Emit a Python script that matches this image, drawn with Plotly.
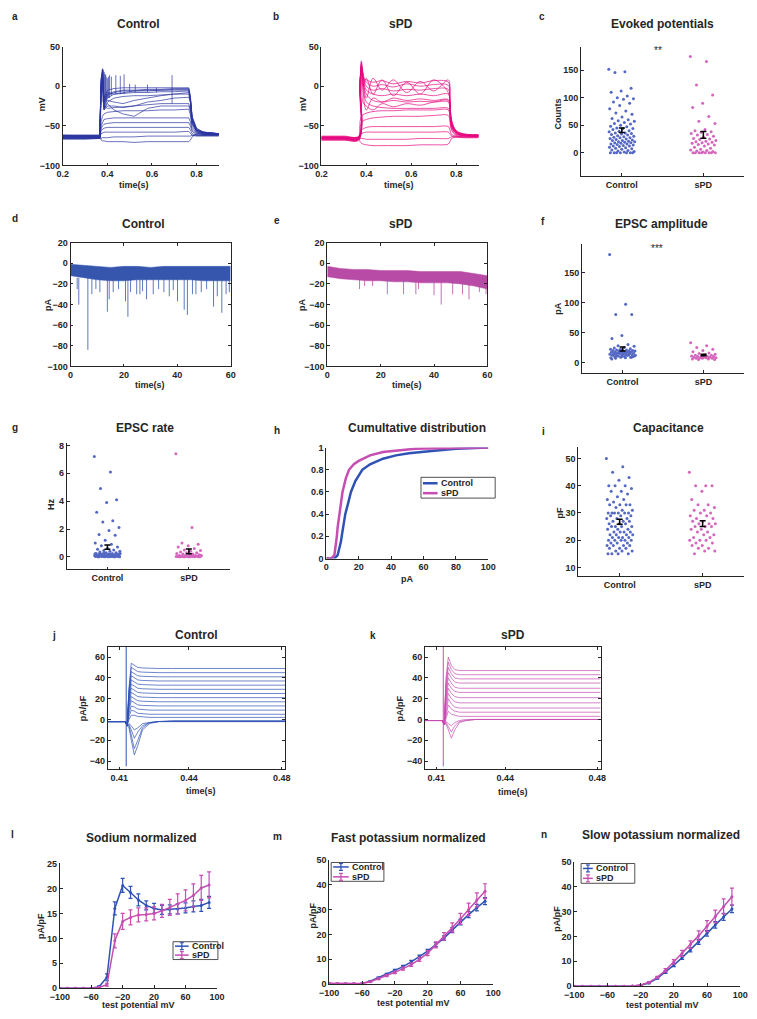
import numpy as np
import plotly.graph_objects as go

W, H = 757, 1019
FONT = "Liberation Sans"
AX = "#262626"

# ---------------- DATA ----------------
# a / b : current-clamp traces, key times (s) and voltages (mV)
T_AB = [0.20, 0.30, 0.366, 0.372, 0.378, 0.385, 0.40, 0.43, 0.47, 0.52, 0.58, 0.64, 0.70, 0.765, 0.772, 0.78, 0.80, 0.83, 0.90]
A_CTRL = [
    [-62, -63, -63, -68, -69, -69, -70, -70, -70, -71, -70, -70, -70, -70, -68, -64, -60, -60, -61],
    [-64, -64, -64, -66, -65, -65, -65, -64, -64, -64, -63, -63, -63, -63, -63, -62, -62, -62, -62],
    [-66, -65, -65, -60, -59, -58, -58, -58, -58, -58, -58, -58, -58, -57, -59, -62, -63, -63, -63],
    [-63, -64, -64, -56, -54, -53, -52, -52, -52, -52, -52, -52, -52, -52, -55, -60, -62, -62, -62],
    [-65, -65, -65, -54, -50, -48, -47, -46, -46, -46, -46, -46, -46, -46, -50, -57, -61, -62, -62],
    [-62, -62, -62, -50, -45, -42, -41, -40, -40, -40, -40, -40, -40, -40, -45, -55, -60, -61, -61],
    [-64, -64, -64, -45, -38, -35, -33, -32, -31, -31, -31, -30, -30, -29, -36, -52, -59, -61, -61],
    [-66, -66, -66, -20, 15, -25, -28, -27, -26, -25, -24, -22, -22, -22, -30, -48, -58, -60, -61],
    [-63, -63, -63, -10, 20, -30, -20, -15, -13, -12, -12, -11, -10, -10, -20, -45, -57, -60, -60],
    [-65, -65, -65, -5, 22, -28, -15, -10, -9, -8, -8, -7, -7, -6, -18, -44, -56, -59, -60],
    [-62, -62, -62, 0, 18, -25, -12, -8, -6, -6, -5, -5, -4, -4, -16, -42, -55, -59, -60],
    [-67, -67, -66, 5, 15, -20, -10, -7, -5, -5, -4, -4, -3, -3, -15, -40, -55, -58, -60],
    [-64, -64, -64, 8, 20, -18, -8, -10, -8, -6, -6, -5, -5, -5, -15, -40, -54, -58, -60],
    [-63, -63, -63, 10, 17, -22, -18, -20, -22, -18, -15, -12, -10, -8, -17, -42, -55, -58, -60],
    [-66, -66, -66, 2, 12, -30, -25, -25, -27, -25, -20, -18, -15, -14, -20, -45, -56, -59, -60],
    [-64, -64, -64, -2, 10, -28, -22, -30, -35, -38, -28, -25, -25, -25, -30, -48, -57, -60, -61],
    [-62, -62, -62, 6, 14, -15, -5, -3, -2, -2, -2, -2, -2, -2, -12, -38, -53, -58, -60],
]
A_SPIKE_T = [0.380, 0.383, 0.386, 0.389, 0.392, 0.395, 0.400, 0.405, 0.410, 0.418, 0.438, 0.458, 0.475, 0.500, 0.525, 0.580, 0.620, 0.690]
A_SPIKE_V = [22, 20, 18, 15, 15, 12, 10, 12, 14, 12, 14, 13, 15, 3, 2, 2, -2, 14]
A_SPIKE_BASE = [-20, -20, -20, -20, -18, -18, -15, -15, -15, -12, -10, -10, -10, -8, -8, -8, -8, -22]

B_SPD = [
    [-66, -66, -66, -70, -72, -73, -74, -75, -75, -75, -75, -74, -74, -73, -70, -66, -64, -64, -64],
    [-65, -65, -65, -66, -66, -66, -67, -67, -67, -67, -67, -66, -66, -66, -65, -64, -64, -64, -64],
    [-68, -68, -68, -62, -60, -59, -58, -58, -58, -58, -58, -58, -58, -58, -60, -63, -64, -65, -65],
    [-64, -64, -64, -58, -55, -54, -52, -51, -51, -51, -51, -51, -51, -51, -55, -61, -63, -64, -64],
    [-66, -66, -66, -52, -46, -44, -42, -40, -39, -38, -38, -38, -37, -37, -44, -56, -62, -63, -63],
    [-67, -67, -67, -45, -38, -36, -34, -32, -31, -31, -30, -30, -30, -30, -38, -54, -61, -62, -63],
    [-65, -65, -65, -10, 30, 5, -20, -25, -27, -28, -28, -28, -28, -28, -35, -52, -60, -62, -63],
    [-66, -66, -66, -5, 32, 10, -10, -18, -20, -18, -20, -19, -20, -20, -30, -50, -59, -62, -62],
    [-64, -64, -64, 0, 28, 15, -5, -10, -12, -10, -12, -10, -12, -10, -25, -48, -58, -61, -62],
    [-67, -67, -67, 2, 25, 18, 0, -5, -3, -6, -4, -5, -3, -4, -20, -46, -57, -61, -62],
    [-65, -65, -65, 5, 22, 12, 5, 0, 2, -1, 3, 0, 2, 1, -18, -45, -57, -61, -62],
    [-66, -66, -66, 8, 20, 10, 8, 5, 7, 3, 6, 4, 7, 5, -15, -44, -56, -60, -62],
    [-63, -63, -63, 3, 26, 8, -15, 10, -5, 8, -8, 6, -6, 8, -14, -43, -56, -60, -61],
    [-68, -68, -68, -2, 24, 0, 10, -10, 8, -12, 5, -10, 8, -8, -22, -47, -58, -61, -62],
    [-64, -64, -64, 6, 18, -5, -30, -15, -20, -15, -18, -16, -18, -17, -27, -50, -59, -62, -63],
    [-66, -66, -66, 4, 15, -20, -25, -30, -22, -26, -22, -24, -20, -18, -28, -50, -59, -62, -63],
]

# d / e : spontaneous EPSC recordings (noise band envelope + events)
T_DE = [0, 5, 10, 15, 20, 25, 30, 35, 40, 45, 50, 55, 60]
D_UPPER = [-1, -2, -3, -4, -3, -3, -4, -3, -3, -3, -3, -3, -3]
D_LOWER = [-12, -14, -16, -17, -17, -16, -16, -16, -16, -16, -17, -17, -17]
D_EV_T = [2.5, 3.1, 6.5, 8.0, 9.5, 11.0, 13.8, 14.5, 16.0, 18.0, 20.6, 21.5, 22.5, 24.8, 26.0, 27.0, 28.5, 31.0,
          33.0, 35.0, 37.0, 38.5, 40.1, 42.6, 43.8, 45.7, 47.0, 49.0, 51.0, 53.6, 55.0, 56.7, 58.3, 59.5]
D_EV_A = [-25, -40, -84, -30, -25, -28, -47, -35, -28, -25, -37, -52, -28, -30, -30, -27, -35, -30,
          -25, -28, -32, -26, -37, -45, -50, -30, -30, -28, -25, -42, -32, -48, -30, -28]
E_UPPER = [-3, -5, -6, -6, -7, -7, -7, -8, -8, -8, -8, -10, -12]
E_LOWER = [-13, -15, -16, -17, -17, -18, -18, -19, -19, -19, -20, -22, -25]
E_EV_T = [12.1, 14.0, 17.0, 22.5, 28.6, 33.2, 34.2, 40.0, 42.7, 47.0, 50.7, 53.1, 57.0, 59.5]
E_EV_A = [-25, -22, -22, -30, -30, -30, -25, -31, -40, -30, -30, -35, -28, -30]

# c : evoked potentials (counts)
C_CTRL = [152, 147, 146, 117, 112, 110, 103, 100, 98, 97, 92, 90, 86, 80, 76, 72, 70, 65, 62, 60, 58, 57, 55,
          53, 52, 50, 48, 47, 45, 44, 44, 42, 40, 39, 38, 36, 36, 35, 34, 33, 32, 31, 30, 29, 28, 27, 27, 26,
          25, 24, 23, 22, 22, 21, 20, 20, 19, 18, 18, 17, 16, 16, 15, 14, 13, 12, 12, 11, 10, 9, 8, 7, 6, 5,
          4, 3, 2, 1, 0, 0, 0, 0, 0, 0, 0]
C_SPD = [175, 166, 123, 105, 90, 82, 66, 57, 53, 42, 40, 38, 37, 35, 33, 32, 30, 28, 26, 25, 24, 22, 21, 20,
         19, 18, 17, 16, 15, 14, 12, 10, 8, 6, 5, 4, 3, 2, 1, 0, 0, 0, 0, 0, 0, 0, 0]

# f : EPSC amplitude (pA)
F_CTRL = [180, 97, 80, 80, 45, 40, 30, 28, 27, 25, 24, 23, 22, 22, 21, 21, 20, 20, 20, 19, 19, 19, 18, 18, 18,
          17, 17, 17, 16, 16, 16, 15, 15, 15, 14, 14, 14, 13, 13, 12, 12, 11, 11, 10, 10, 9, 9, 8, 12, 11, 10,
          14, 13, 15, 16, 12, 8, 7, 9, 10, 6]
F_SPD = [33, 28, 25, 22, 20, 18, 16, 15, 14, 13, 12, 12, 11, 11, 10, 10, 10, 9, 9, 9, 8, 8, 8, 7, 7, 7, 6, 6, 5, 5]

# g : EPSC rate (Hz)
G_CTRL = [7.2, 6.1, 4.9, 4.1, 3.9, 3.2, 2.6, 2.5, 2.1, 1.9, 1.6, 1.55, 1.2, 1.0, 0.9, 0.8, 0.7, 0.6, 0.55, 0.5,
          0.45, 0.4, 0.4, 0.35, 0.3, 0.3, 0.25, 0.25, 0.2, 0.2, 0.2, 0.15, 0.15, 0.15, 0.1, 0.1, 0.1, 0.1, 0.08,
          0.08, 0.06, 0.06, 0.05, 0.05, 0.04, 0.04, 0.03, 0.03, 0.02, 0.02, 0.02, 0.01, 0.01, 0.01,
          0.3, 0.25, 0.2, 0.18, 0.15, 0.12, 0.1, 0.08, 0.05, 0.03, 0.02, 0.0, 0.0, 0.0, 0.22, 0.17, 0.13, 0.11,
          0.09, 0.07, 0.04, 0.02, 0.01, 0.0, 0.28, 0.19]
G_SPD = [7.4, 2.1, 1.0, 0.9, 0.8, 0.7, 0.6, 0.5, 0.45, 0.4, 0.35, 0.3, 0.3, 0.25, 0.2, 0.2, 0.15, 0.15, 0.1,
         0.1, 0.1, 0.08, 0.06, 0.05, 0.04, 0.03, 0.02, 0.02, 0.01, 0.01, 0.0, 0.0, 0.05, 0.04, 0.03, 0.02,
         0.02, 0.01, 0.01, 0.0, 0.0, 0.0, 0.12, 0.08, 0.06]

# h : cumulative distribution of EPSC amplitude
H_X_CTRL = [0, 5, 7, 8, 9, 9.5, 10.5, 11.7, 13.5, 15.2, 18, 22.2, 27, 35, 43, 51, 65, 80, 100]
H_Y_CTRL = [0, 0, 0.03, 0.08, 0.15, 0.2, 0.3, 0.4, 0.5, 0.6, 0.7, 0.8, 0.85, 0.9, 0.93, 0.95, 0.97, 0.99, 1.0]
H_X_SPD = [0, 3, 5, 6, 6.5, 7, 8, 9, 10, 12, 14, 17, 20, 27, 35, 41, 55, 70, 100]
H_Y_SPD = [0, 0, 0.03, 0.12, 0.2, 0.28, 0.4, 0.5, 0.6, 0.72, 0.8, 0.85, 0.88, 0.93, 0.96, 0.97, 0.99, 0.995, 1.0]

# i : capacitance (pF)
I_CTRL = [50, 47, 45, 43, 42, 40, 40, 40, 39, 38, 38, 37, 36, 35, 35, 34, 33, 33, 33, 33, 32, 31, 31, 30, 30, 30,
          30, 30, 30, 29, 29, 29, 28, 28, 28, 27, 27, 27, 26, 26, 26, 25, 25, 25, 25, 24, 24, 24, 23, 23, 23, 23,
          22, 22, 22, 22, 21, 21, 21, 21, 20, 20, 20, 20, 20, 19, 19, 19, 18, 18, 18, 18, 17, 17, 17, 16, 16, 16,
          15, 15, 15, 15]
I_SPD = [45, 40, 40, 40, 38, 35, 33, 33, 32, 31, 31, 30, 30, 29, 29, 28, 28, 27, 27, 26, 26, 26, 25, 25, 25, 24,
         24, 23, 23, 22, 22, 21, 21, 20, 20, 20, 19, 19, 18, 18, 17, 17, 16, 16, 15]

# j / k : voltage-clamp current density traces (pA/pF)
T_JK = [0.405, 0.4127, 0.4134, 0.4142, 0.4152, 0.4165, 0.418, 0.420, 0.423, 0.427, 0.433, 0.445, 0.46, 0.4815]
J_CTRL = [
    [-2, -2, -6, 30, 54, 52, 50, 49.5, 49, 49, 49, 49, 49, 49],
    [-2, -2, -6, 28, 50, 48, 46, 45.5, 45, 45, 45, 45, 45, 45],
    [-2, -2, -6, 26, 46, 44, 42, 41.5, 41, 41, 41, 41, 41, 41],
    [-2, -2, -6, 24, 42, 40, 38, 37.5, 37, 37, 37, 37, 37, 37],
    [-2, -2, -6, 22, 38, 36, 34, 33.5, 33, 33, 33, 33, 33, 33],
    [-2, -2, -6, 20, 34, 32, 30, 29.5, 29, 29, 29, 29, 29, 29],
    [-2, -2, -6, 18, 30, 28, 26, 25.5, 25, 25, 25, 25, 25, 25],
    [-2, -2, -6, 15, 26, 24, 22, 21.5, 21, 21, 21, 21, 21, 21],
    [-2, -2, -6, 12, 22, 20, 18, 17.5, 17, 17, 17, 17, 17, 17],
    [-2, -2, -6, 9, 18, 16, 14, 13.5, 13, 13, 13, 13, 13, 13],
    [-2, -2, -6, 6, 13, 12, 10, 9.5, 9, 9, 9, 9, 9, 9],
    [-2, -2, -6, 3, 9, 8, 6, 5.5, 5, 5, 5, 5, 5, 5],
    [-2, -2, -6, 0, 4, 4, 3, 2.5, 2, 2, 2, 2, 2, 2],
    [-2, -2, -6, -8, -20, -34, -25, -10, -4, -2, -1, -1, -1, -1],
    [-2, -2, -6, -6, -15, -28, -20, -8, -3, -2, -2, -2, -2, -2],
    [-2, -2, -6, -5, -10, -18, -12, -6, -3, -2, -2, -2, -2, -2],
    [-2, -2, -6, -4, -6, -10, -8, -4, -3, -2, -2, -2, -2, -2],
]
K_SPD = [
    [-1, -1, -5, 40, 60, 52, 48, 47, 47, 47, 47, 47, 47, 47],
    [-1, -1, -5, 36, 55, 48, 44, 43, 43, 43, 43, 43, 43, 43],
    [-1, -1, -5, 32, 50, 44, 40, 39, 39, 39, 39, 39, 39, 39],
    [-1, -1, -5, 28, 45, 40, 36, 35, 35, 35, 35, 35, 35, 35],
    [-1, -1, -5, 24, 40, 35, 31, 30, 30, 30, 30, 30, 30, 30],
    [-1, -1, -5, 20, 35, 30, 27, 26, 26, 26, 26, 26, 26, 26],
    [-1, -1, -5, 16, 30, 25, 22, 21, 21, 21, 21, 21, 21, 21],
    [-1, -1, -5, 12, 25, 20, 17, 16, 16, 16, 16, 16, 16, 16],
    [-1, -1, -5, 8, 20, 15, 12, 11, 11, 11, 11, 11, 11, 11],
    [-1, -1, -5, 5, 14, 10, 8, 7, 7, 7, 7, 7, 7, 7],
    [-1, -1, -5, 2, 8, 5, 4, 3, 3, 3, 3, 3, 3, 3],
    [-1, -1, -5, -4, -10, -18, -10, -3, -1, 0, 0, 0, 0, 0],
    [-1, -1, -5, -3, -7, -12, -6, -2, -1, 0, 0, 0, 0, 0],
    [-1, -1, -5, -2, -4, -6, -3, -1, 0, 0, 0, 0, 0, 0],
]
JK_CAP_T = [0.4130, 0.4130]
JK_CAP_V = [-45, 70]

# l / m / n : I-V curves
V_TEST = [-100, -90, -80, -70, -60, -50, -40, -30, -20, -10, 0, 10, 20, 30, 40, 50, 60, 70, 80, 90]
L_CTRL = [0, 0, 0, 0, 0, 0.3, 2.2, 16.0, 20.6, 19.2, 17.7, 16.6, 16.0, 15.7, 15.8, 15.9, 16.1, 16.4, 16.6, 17.2]
L_CTRL_E = [0, 0, 0, 0, 0, 0.2, 0.7, 1.3, 1.4, 1.2, 1.2, 0.9, 1.0, 0.9, 0.9, 1.0, 1.0, 1.1, 1.2, 1.2]
L_SPD = [0, 0, 0, 0, 0, 0.2, 0.7, 9.5, 13.4, 14.2, 14.7, 14.8, 15.0, 15.5, 16.2, 16.9, 17.6, 18.6, 20.1, 20.7]
L_SPD_E = [0, 0, 0, 0, 0, 0.1, 0.3, 1.4, 1.6, 1.5, 1.4, 1.3, 1.3, 1.3, 1.6, 2.0, 2.1, 2.3, 2.5, 2.6]
M_CTRL = [0.2, 0.2, 0.2, 0.2, 0.3, 1.2, 2.6, 4.0, 5.6, 7.1, 9.0, 11.1, 13.3, 15.9, 18.5, 21.7, 24.9, 27.9, 30.7, 33.3]
M_CTRL_E = [0.1, 0.1, 0.1, 0.1, 0.1, 0.2, 0.3, 0.4, 0.4, 0.5, 0.6, 0.6, 0.7, 0.8, 0.9, 1.0, 1.1, 1.2, 1.3, 1.4]
M_SPD = [0.4, 0.3, 0.3, 0.3, 0.3, 1.0, 2.2, 3.5, 4.8, 6.3, 7.9, 10.0, 12.5, 15.8, 19.2, 22.8, 26.2, 30.0, 33.8, 37.3]
M_SPD_E = [0.2, 0.1, 0.1, 0.1, 0.1, 0.2, 0.3, 0.4, 0.5, 0.6, 0.7, 0.8, 1.0, 1.2, 1.5, 1.8, 2.2, 2.5, 2.8, 3.0]
N_CTRL = [0, 0, 0, 0, 0, 0, 0, 0.1, 0.4, 1.3, 3.2, 5.7, 8.5, 11.5, 14.6, 17.8, 21.2, 24.6, 27.8, 31.0]
N_CTRL_E = [0, 0, 0, 0, 0, 0, 0, 0.05, 0.1, 0.2, 0.3, 0.5, 0.6, 0.7, 0.8, 1.0, 1.1, 1.3, 1.4, 1.5]
N_SPD = [0, 0, 0, 0, 0, 0, 0, 0.1, 0.5, 1.6, 3.6, 6.4, 9.8, 13.2, 16.7, 20.3, 24.1, 28.0, 32.0, 35.9]
N_SPD_E = [0, 0, 0, 0, 0, 0, 0, 0.05, 0.1, 0.3, 0.4, 0.7, 0.9, 1.2, 1.5, 1.9, 2.2, 2.5, 3.0, 3.4]

GROUPS = ["Control", "sPD"]

# ---------------- STYLE ----------------
C_A = "#2B35A0"
C_B = "#E6087F"
C_D = "#3656AE"
C_E = "#B84BA6"
C_DOT_C = "#5468C4"
C_DOT_S = "#D566BE"
C_BLUE = "#2F52B5"
C_MAG = "#C64DB2"

fig = go.Figure()
annots = []
shapes = []
_axn = [0]


def tickfont():
    return dict(family=FONT, size=9, color=AX, weight="bold")


def new_axes(L, R, T, B, xr, yr, xtv=None, ytv=None, xtt=None, ytt=None, box=False):
    _axn[0] += 1
    i = _axn[0]
    s = "" if i == 1 else str(i)
    common = dict(showline=True, linecolor=AX, linewidth=0.8, mirror=("ticks" if box else False),
                  ticks="inside", ticklen=3, tickcolor=AX, tickwidth=0.8, tickfont=tickfont(),
                  showgrid=False, zeroline=False, fixedrange=True)
    xa = dict(domain=[L / W, R / W], range=xr, anchor="y" + s, tickvals=xtv, ticktext=xtt, **common)
    ya = dict(domain=[1 - B / H, 1 - T / H], range=yr, anchor="x" + s, tickvals=ytv, ticktext=ytt, **common)
    fig.update_layout(**{"xaxis" + s: xa, "yaxis" + s: ya})
    return "x" + s, "y" + s


def text(t, x, y, size=9, rot=0, bold=True, color=AX, xanchor="center"):
    annots.append(dict(text=t, x=x / W, y=1 - y / H, xref="paper", yref="paper", showarrow=False,
                       textangle=rot, xanchor=xanchor, yanchor="middle",
                       font=dict(family=FONT, size=size, color=color, weight=("bold" if bold else "normal"))))


def pline(x0, y0, x1, y1, color, width):
    shapes.append(dict(type="line", xref="paper", yref="paper", x0=x0 / W, x1=x1 / W,
                       y0=1 - y0 / H, y1=1 - y1 / H, line=dict(color=color, width=width)))


def legend_box(L, T, R, B, rows, errbar=False, lw=2.5):
    shapes.append(dict(type="rect", xref="paper", yref="paper", x0=L / W, x1=R / W, y0=1 - B / H, y1=1 - T / H,
                       line=dict(color=AX, width=0.8), fillcolor="white", layer="above"))
    for (name, color, y, x0, x1) in rows:
        pline(x0, y, x1, y, color, lw)
        if errbar:
            xm = (x0 + x1) / 2
            pline(xm, y - 3.5, xm, y + 3.5, color, 1.2)
            pline(xm - 2, y - 3.5, xm + 2, y - 3.5, color, 1.2)
            pline(xm - 2, y + 3.5, xm + 2, y + 3.5, color, 1.2)
        text(name, x1 + 1, y, 9, xanchor="left")


def lines_trace(xa, ya, xs, ys, color, width=0.7, shape="linear"):
    fig.add_trace(go.Scatter(x=xs, y=ys, mode="lines", line=dict(color=color, width=width, shape=shape),
                             xaxis=xa, yaxis=ya, showlegend=False, hoverinfo="skip"))


def multi(xa, ya, tvals, rows, color, width=0.7, shape="linear"):
    for r in rows:
        lines_trace(xa, ya, tvals, r, color, width, shape)


def vlines(xa, ya, ts, tops, bases, color, width=0.7):
    xs, ys = [], []
    for t, a, b in zip(ts, tops, bases):
        xs += [t, t, None]
        ys += [b, a, None]
    lines_trace(xa, ya, xs, ys, color, width)


def jitter_scatter(xa, ya, vals_list, colors, spread=0.16):
    for k, (vals, col) in enumerate(zip(vals_list, colors)):
        n = len(vals)
        offs = ((np.arange(n) * 0.6180339887) % 1.0 - 0.5) * 2 * spread
        fig.add_trace(go.Scatter(x=(k + 1) + offs, y=vals, mode="markers",
                                 marker=dict(color=col, size=3, line=dict(width=0)),
                                 xaxis=xa, yaxis=ya, showlegend=False, hoverinfo="skip"))
    means = [float(np.mean(v)) for v in vals_list]
    sems = [float(np.std(v, ddof=1) / np.sqrt(len(v))) for v in vals_list]
    fig.add_trace(go.Scatter(x=[1, 2], y=means, mode="markers",
                             marker=dict(color="black", size=1),
                             error_y=dict(type="data", array=sems, color="black", thickness=1.5, width=3),
                             xaxis=xa, yaxis=ya, showlegend=False, hoverinfo="skip"))


# ---------------- PANELS ----------------
# a
xa, ya = new_axes(54, 214, 42, 162, [0.2, 0.9], [-100, 50], xtv=[0.2, 0.4, 0.6, 0.8], ytv=[-100, -50, 0, 50])
multi(xa, ya, T_AB, A_CTRL, C_A)
vlines(xa, ya, A_SPIKE_T, A_SPIKE_V, A_SPIKE_BASE, C_A)
text("a", 5, 12, 10)
text("Control", 132, 19, 12)
text("mV", 33, 100, 9, rot=-90)
text("time(s)", 127, 182)

# b
xa, ya = new_axes(319, 480, 42, 162, [0.2, 0.9], [-100, 50], xtv=[0.2, 0.4, 0.6, 0.8], ytv=[-100, -50, 0, 50])
multi(xa, ya, T_AB, B_SPD, C_B, 0.7, "spline")
text("b", 272, 12, 10)
text("sPD", 401, 19, 12)
text("mV", 300, 100, 9, rot=-90)
text("time(s)", 398, 182)

# c
xa, ya = new_axes(585, 752, 42, 173, [0.5, 2.5], [-43, 193], xtv=[1, 2], xtt=GROUPS, ytv=[0, 50, 100, 150])
jitter_scatter(xa, ya, [C_CTRL, C_SPD], [C_DOT_C, C_DOT_S])
text("c", 545, 12, 10)
text("Evoked potentials", 668, 19, 12)
text("Counts", 561, 110, 9, rot=-90)
text("**", 664, 46, 10, bold=False)

# d
xa, ya = new_axes(62, 226, 240, 365, [0, 60], [-100, 20], xtv=[0, 20, 40, 60],
                  ytv=[-100, -80, -60, -40, -20, 0, 20], box=True)
fig.add_trace(go.Scatter(x=T_DE, y=D_UPPER, mode="lines", line=dict(color=C_D, width=0.5),
                         xaxis=xa, yaxis=ya, showlegend=False, hoverinfo="skip"))
fig.add_trace(go.Scatter(x=T_DE, y=D_LOWER, mode="lines", line=dict(color=C_D, width=0.5), fill="tonexty",
                         fillcolor=C_D, xaxis=xa, yaxis=ya, showlegend=False, hoverinfo="skip"))
vlines(xa, ya, D_EV_T, D_EV_A, [-14] * len(D_EV_T), C_D, 0.8)
text("d", 5, 216, 10)
text("Control", 137, 221, 12)
text("pA", 39, 303, 9, rot=-90)
text("time(s)", 143, 384)

# e
xa, ya = new_axes(325, 489, 240, 365, [0, 60], [-100, 20], xtv=[0, 20, 40, 60],
                  ytv=[-100, -80, -60, -40, -20, 0, 20], box=True)
fig.add_trace(go.Scatter(x=T_DE, y=E_UPPER, mode="lines", line=dict(color=C_E, width=0.5),
                         xaxis=xa, yaxis=ya, showlegend=False, hoverinfo="skip"))
fig.add_trace(go.Scatter(x=T_DE, y=E_LOWER, mode="lines", line=dict(color=C_E, width=0.5), fill="tonexty",
                         fillcolor=C_E, xaxis=xa, yaxis=ya, showlegend=False, hoverinfo="skip"))
vlines(xa, ya, E_EV_T, E_EV_A, [-16] * len(E_EV_T), C_E, 0.8)
text("e", 274, 218, 10)
text("sPD", 401, 221, 12)
text("pA", 299, 303, 9, rot=-90)
text("time(s)", 407, 384)

# f
xa, ya = new_axes(586, 752, 241, 372, [0.5, 2.5], [-18, 198], xtv=[1, 2], xtt=GROUPS, ytv=[0, 50, 100, 150])
jitter_scatter(xa, ya, [F_CTRL, F_SPD], [C_DOT_C, C_DOT_S])
text("f", 546, 219, 10)
text("EPSC amplitude", 667, 221, 12)
text("pA", 561, 307, 9, rot=-90)
text("***", 663, 246, 10, bold=False)

# g
xa, ya = new_axes(58, 225, 442, 570, [0.5, 2.5], [-0.9, 8.2], xtv=[1, 2], xtt=GROUPS, ytv=[0, 2, 4, 6, 8])
jitter_scatter(xa, ya, [G_CTRL, G_SPD], [C_DOT_C, C_DOT_S])
text("g", 5, 427, 10)
text("EPSC rate", 138, 427, 12)
text("Hz", 42, 504, 9, rot=-90)

# h
xa, ya = new_axes(324, 490, 447, 559, [0, 100], [0, 1.0], xtv=[0, 20, 40, 60, 80, 100],
                  ytv=[0, 0.2, 0.4, 0.6, 0.8, 1], ytt=["0", "0.2", "0.4", "0.6", "0.8", "1"])
fig.add_trace(go.Scatter(x=H_X_CTRL, y=H_Y_CTRL, mode="lines", line=dict(color=C_BLUE, width=2.5),
                         xaxis=xa, yaxis=ya, showlegend=False, hoverinfo="skip"))
fig.add_trace(go.Scatter(x=H_X_SPD, y=H_Y_SPD, mode="lines", line=dict(color=C_MAG, width=2.5),
                         xaxis=xa, yaxis=ya, showlegend=False, hoverinfo="skip"))
legend_box(421, 477, 497, 498, [("Control", C_BLUE, 483, 423, 438), ("sPD", C_MAG, 493, 423, 438)])
text("h", 274, 430, 10)
text("Cumultative distribution", 417, 427, 12)
text("pA", 407, 580)

# i
xa, ya = new_axes(582, 752, 446, 577, [0.5, 2.5], [6.7, 54.4], xtv=[1, 2], xtt=GROUPS, ytv=[10, 20, 30, 40, 50])
jitter_scatter(xa, ya, [I_CTRL, I_SPD], [C_DOT_C, C_DOT_S])
text("i", 547, 431, 10)
text("Capacitance", 675, 427, 12)
text("pF", 563, 513, 9, rot=-90)

# j
xa, ya = new_axes(100, 282, 648, 772, [0.405, 0.4815], [-48, 70], xtv=[0.41, 0.44, 0.48],
                  ytv=[-40, -20, 0, 20, 40, 60], box=True)
multi(xa, ya, T_JK, J_CTRL, C_BLUE, 0.7)
vlines(xa, ya, [JK_CAP_T[0]], [JK_CAP_V[1]], [JK_CAP_V[0]], C_BLUE, 1.0)
text("j", 45, 637, 10)
text("Control", 191, 636, 12)
text("pA/pF", 75, 710, 9, rot=-90)
text("time(s)", 196, 794)

# k
xa, ya = new_axes(425, 605, 648, 772, [0.405, 0.4815], [-48, 70], xtv=[0.41, 0.44, 0.48],
                  ytv=[-40, -20, 0, 20, 40, 60], box=True)
multi(xa, ya, T_JK, K_SPD, C_MAG, 0.7)
vlines(xa, ya, [JK_CAP_T[0]], [JK_CAP_V[1]], [JK_CAP_V[0]], C_MAG, 1.0)
text("k", 372, 637, 10)
text("sPD", 515, 636, 12)
text("pA/pF", 400, 710, 9, rot=-90)
text("time(s)", 515, 795)


def iv_panel(L, R, T, B, yr, ytv, ctrl, ctrl_e, spd, spd_e):
    xa, ya = new_axes(L, R, T, B, [-100, 100], yr, xtv=[-100, -60, -20, 20, 60, 100], ytv=ytv)
    for vals, errs, col in [(ctrl, ctrl_e, C_BLUE), (spd, spd_e, C_MAG)]:
        fig.add_trace(go.Scatter(x=V_TEST, y=vals, mode="lines+markers",
                                 line=dict(color=col, width=1.5), marker=dict(color=col, size=3),
                                 error_y=dict(type="data", array=errs, color=col, thickness=1.2, width=2),
                                 xaxis=xa, yaxis=ya, showlegend=False, hoverinfo="skip"))


# l
iv_panel(51, 212, 867, 993, [0, 25], [0, 5, 10, 15, 20, 25], L_CTRL, L_CTRL_E, L_SPD, L_SPD_E)
legend_box(167, 946, 213, 964, [("Control", C_BLUE, 950.5, 169, 183), ("sPD", C_MAG, 959.5, 169, 183)],
           errbar=True, lw=1.5)
text("l", 3, 838, 10)
text("Sodium normalized", 135, 841, 12)
text("pA/pF", 32, 930, 9, rot=-90)
text("test potential mV", 132, 1010)

# m
iv_panel(327, 495, 863, 989, [0, 50], [0, 10, 20, 30, 40, 50], M_CTRL, M_CTRL_E, M_SPD, M_SPD_E)
legend_box(329, 866, 383, 885, [("Control", C_BLUE, 870.5, 331, 347), ("sPD", C_MAG, 880.5, 331, 347)],
           errbar=True, lw=1.5)
text("m", 274, 840, 10)
text("Fast potassium normalized", 408, 841, 12)
text("pA/pF", 310, 920, 9, rot=-90)
text("test potential mV", 413, 1008)

# n
iv_panel(578, 748, 865, 991, [0, 50], [0, 10, 20, 30, 40, 50], N_CTRL, N_CTRL_E, N_SPD, N_SPD_E)
legend_box(585, 867, 640, 887, [("Control", C_BLUE, 872, 587, 597), ("sPD", C_MAG, 882, 587, 597)],
           errbar=True, lw=1.5)
text("n", 547, 838, 10)
text("Slow potassium normalized", 667, 838, 12)
text("pA/pF", 560, 923, 9, rot=-90)
text("test potential mV", 668, 1010)

fig.update_layout(
    width=W, height=H, margin=dict(l=0, r=0, t=0, b=0),
    paper_bgcolor="white", plot_bgcolor="white",
    showlegend=False,
    annotations=annots, shapes=shapes,
)

fig.write_html("out.html", config={"displayModeBar": False},
               post_script="document.body.style.margin='0px';document.body.style.overflow='hidden';")
